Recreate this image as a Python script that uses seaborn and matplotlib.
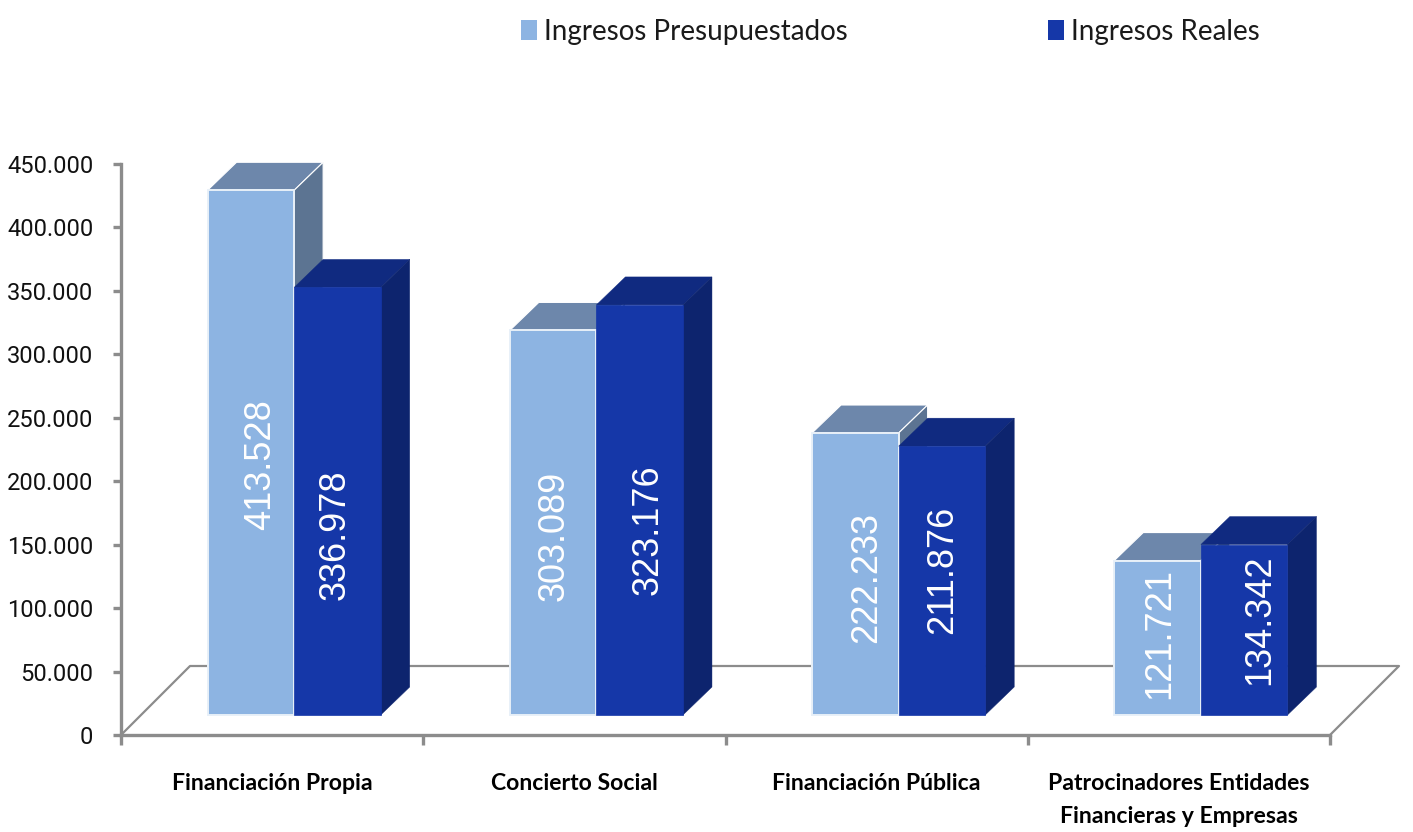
import matplotlib
matplotlib.use("Agg")
import matplotlib.pyplot as plt
from matplotlib.patches import Polygon, Rectangle
from matplotlib.transforms import ScaledTranslation
import pandas as pd
import seaborn as sns

categorias = ["Financiación Propia", "Concierto Social", "Financiación Pública",
              "Patrocinadores Entidades\nFinancieras y Empresas"]
presupuestados = [413528, 303089, 222233, 121721]
reales = [336978, 323176, 211876, 134342]
series = ["Ingresos Presupuestados", "Ingresos Reales"]
yticks = [0, 50000, 100000, 150000, 200000, 250000, 300000, 350000, 400000, 450000]

W, H = 1413, 832
gris = "#8c8c8c"
frente = ["#8db4e2", "#1537a8"]
arriba = ["#6d87ab", "#102a80"]
lado = ["#5c7492", "#0d246e"]


def miles(v):
    return f"{v:,}".replace(",", ".")


sns.set_theme(style="white")
plt.rcParams["font.family"] = ["Lato", "DejaVu Sans"]

df = pd.DataFrame({
    "categoria": categorias * 2,
    "valor": presupuestados + reales,
    "serie": [series[0]] * 4 + [series[1]] * 4,
})

fig = plt.figure(figsize=(W / 100, H / 100), dpi=100)
ax = fig.add_axes([121 / W, 1 - 735 / H, (1330 - 121) / W, (735 - 164) / H])
sns.barplot(data=df, x="categoria", y="valor", hue="serie", palette=frente,
            width=0.573, gap=0, saturation=1, ax=ax, legend=False)
ax.set_xlim(-0.5, 3.5)
ax.set_ylim(0, 450000)
ax.set_xlabel("")
ax.set_ylabel("")

# px to data units
px_x = 4 / (1330 - 121)
px_y = 450000 / (735 - 164)
dx, dy = 29 * px_x, 28 * px_y
desplaza = ax.transData + ScaledTranslation(22 / 100, 20 / 100, fig.dpi_scale_trans)

# nudges of the value labels, px (right, up)
ajustes = [[(10, -12), (-2, -34)], [(1, -13), (8, -20)],
           [(11, -3), (1, 11)], [(2, 4), (16, 10)]]

for s, cont in enumerate(ax.containers):
    for c, bar in enumerate(cont):
        x0, w, h = bar.get_x(), bar.get_width(), bar.get_height()
        z = 3 + c * 3 + s * 3
        bar.set_transform(desplaza)
        bar.set_clip_on(False)
        bar.set_zorder(z + 1)
        bar.set_edgecolor("#e8f0f8" if s == 0 else frente[1])
        bar.set_linewidth(1.4 if s == 0 else 0.5)
        top = [(x0, h), (x0 + w, h), (x0 + w + dx, h + dy), (x0 + dx, h + dy)]
        side = [(x0 + w, 0), (x0 + w + dx, dy), (x0 + w + dx, h + dy), (x0 + w, h)]
        for pts, col in ((top, arriba[s]), (side, lado[s])):
            ax.add_patch(Polygon(pts, closed=True, facecolor=col, edgecolor="white" if s == 0 else col,
                                 linewidth=0.8 if s == 0 else 0.3, transform=desplaza,
                                 clip_on=False, zorder=z))
        nx, ny = ajustes[c][s]
        ax.annotate(miles(int(h)), (x0 + w / 2, h / 2), xycoords=desplaza, xytext=(nx * 0.72, ny * 0.72),
                    textcoords="offset points", rotation=90, ha="center", va="center",
                    color="white", fontsize=26, family=["Liberation Sans", "DejaVu Sans"],
                    zorder=z + 2)

# floor
fx, fy = 69 * px_x, 69 * px_y
ax.plot([-0.5, -0.5 + fx, 3.5 + fx, 3.5], [0, fy, fy, 0], color=gris, lw=1.6,
        clip_on=False, zorder=1)

sns.despine(ax=ax)
for lado_eje in ("left", "bottom"):
    ax.spines[lado_eje].set_color(gris)
    ax.spines[lado_eje].set_linewidth(2.4)
ax.set_yticks(yticks, [miles(v) for v in yticks])
ax.set_xticks([-0.5, 0.5, 1.5, 2.5, 3.5], minor=True)
ax.tick_params(axis="y", left=True, length=6, width=2.4, color=gris, labelsize=17,
               labelcolor="#111111", pad=14)
ax.tick_params(axis="x", which="minor", bottom=True, length=7, width=2.4, color=gris)
ax.tick_params(axis="x", which="major", bottom=False, labelsize=16.6, pad=21, labelcolor="black")
for t in ax.get_yticklabels():
    t.set_family(["Roboto", "DejaVu Sans"])
for t in ax.get_xticklabels():
    t.set_fontweight("bold")
    t.set_linespacing(1.75)

# legend
handles = [Rectangle((0, 0), 1, 1, facecolor=c, edgecolor="none") for c in frente]
fig.legend(handles, series, ncols=2, loc="center left", bbox_to_anchor=(496 / W, 1 - 32 / H),
           frameon=False, fontsize=20, handlelength=0.58, handleheight=0.75, handletextpad=0.25,
           columnspacing=7.2, labelcolor="#1a1a1a")

fig.savefig("out.png", dpi=100)
